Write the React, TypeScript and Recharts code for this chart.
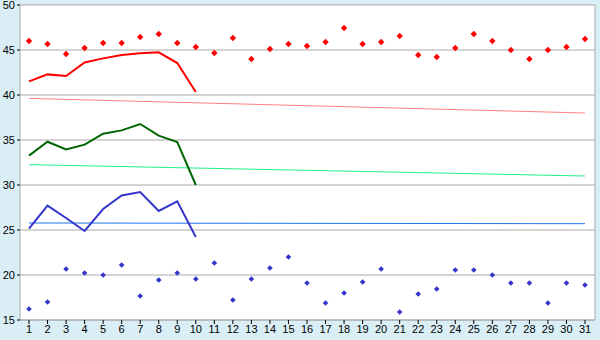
import { CartesianGrid, Line, LineChart, XAxis, YAxis } from "recharts";

const days = Array.from({ length: 31 }, (_, i) => i + 1);

const redPoints = [
  46.0, 45.67, 44.56, 45.22, 45.78, 45.78, 46.44, 46.78, 45.78, 45.33, 44.67,
  46.33, 44.0, 45.11, 45.67, 45.44, 45.89, 47.44, 45.67, 45.89, 46.56, 44.44,
  44.22, 45.22, 46.78, 46.0, 45.0, 44.0, 45.0, 45.33, 46.22,
];
const bluePoints = [
  16.22, 17.0, 20.67, 20.22, 20.0, 21.11, 17.67, 19.44, 20.22, 19.56, 21.33,
  17.22, 19.56, 20.78, 22.0, 19.11, 16.89, 18.0, 19.22, 20.67, 15.89, 17.89,
  18.44, 20.56, 20.56, 20.0, 19.11, 19.11, 16.89, 19.11, 18.89,
];

const redLine = [41.51, 42.29, 42.11, 43.62, 44.07, 44.44, 44.63, 44.74, 43.55, 40.33];
const greenLine = [33.26, 34.81, 33.96, 34.48, 35.7, 36.07, 36.78, 35.48, 34.78, 30.0];
const blueLine = [25.14, 27.7, 26.33, 24.89, 27.33, 28.84, 29.22, 27.11, 28.18, 24.22];

// trend lines: value at first and last day
const redTrend = [39.62, 38.0];
const greenTrend = [32.26, 31.0];
const blueTrend = [25.78, 25.7];

const yTicks = [15, 20, 25, 30, 35, 40, 45, 50];

const data = days.map((day, i) => ({
  day,
  redDot: redPoints[i],
  blueDot: bluePoints[i],
  redLine: redLine[i] ?? null,
  greenLine: greenLine[i] ?? null,
  blueLine: blueLine[i] ?? null,
  redTrend: i === 0 ? redTrend[0] : i === days.length - 1 ? redTrend[1] : null,
  greenTrend: i === 0 ? greenTrend[0] : i === days.length - 1 ? greenTrend[1] : null,
  blueTrend: i === 0 ? blueTrend[0] : i === days.length - 1 ? blueTrend[1] : null,
}));

const diamond = (color: string, r: number) => (props: any) => {
  const { cx, cy, index } = props;
  if (cx == null || cy == null) return <g key={`d-${index}`} />;
  return (
    <path
      key={`d-${color}-${index}`}
      d={`M${cx},${cy - r} L${cx + r},${cy} L${cx},${cy + r} L${cx - r},${cy} Z`}
      fill={color}
      stroke="none"
    />
  );
};

const tickStyle = { fontFamily: "Liberation Sans", fontSize: 11, fill: "#000" };

export default function App() {
  return (
    <div style={{ position: "absolute", left: 0, top: 0, width: 600, height: 340, background: "#d9eef5" }}>
      <LineChart
        width={600}
        height={340}
        data={data}
        margin={{ top: 5, right: 5, left: 0, bottom: 0 }}
      >
        <CartesianGrid
          fill="#ffffff"
          stroke="#aaaaaa"
          verticalCoordinatesGenerator={({ offset }: any) => [offset.left + offset.width]}
        />
        <XAxis
          dataKey="day"
          type="number"
          domain={[1, 31]}
          ticks={days}
          interval={0}
          padding={{ left: 9, right: 10 }}
          height={20}
          axisLine={{ stroke: "#aaaaaa" }}
          tickLine={{ stroke: "#000" }}
          tickSize={4}
          tickMargin={1}
          tick={tickStyle}
        />
        <YAxis
          type="number"
          domain={[15, 50]}
          ticks={yTicks}
          interval={0}
          width={20}
          axisLine={{ stroke: "#aaaaaa" }}
          tickLine={{ stroke: "#000" }}
          tickSize={3}
          tickMargin={2}
          tick={tickStyle}
        />
        <Line dataKey="redTrend" stroke="#ff8080" strokeWidth={1} dot={false} activeDot={false} connectNulls isAnimationActive={false} />
        <Line dataKey="greenTrend" stroke="#22ee88" strokeWidth={1} dot={false} activeDot={false} connectNulls isAnimationActive={false} />
        <Line dataKey="blueTrend" stroke="#1a75e8" strokeWidth={1} dot={false} activeDot={false} connectNulls isAnimationActive={false} />
        <Line dataKey="redLine" stroke="#ff0000" strokeWidth={2} dot={false} activeDot={false} isAnimationActive={false} />
        <Line dataKey="greenLine" stroke="#006600" strokeWidth={2} dot={false} activeDot={false} isAnimationActive={false} />
        <Line dataKey="blueLine" stroke="#3535cc" strokeWidth={2} dot={false} activeDot={false} isAnimationActive={false} />
        <Line dataKey="redDot" stroke="none" dot={diamond("#ff0000", 3.2)} activeDot={false} isAnimationActive={false} />
        <Line dataKey="blueDot" stroke="none" dot={diamond("#3535cc", 2.8)} activeDot={false} isAnimationActive={false} />
      </LineChart>
    </div>
  );
}
